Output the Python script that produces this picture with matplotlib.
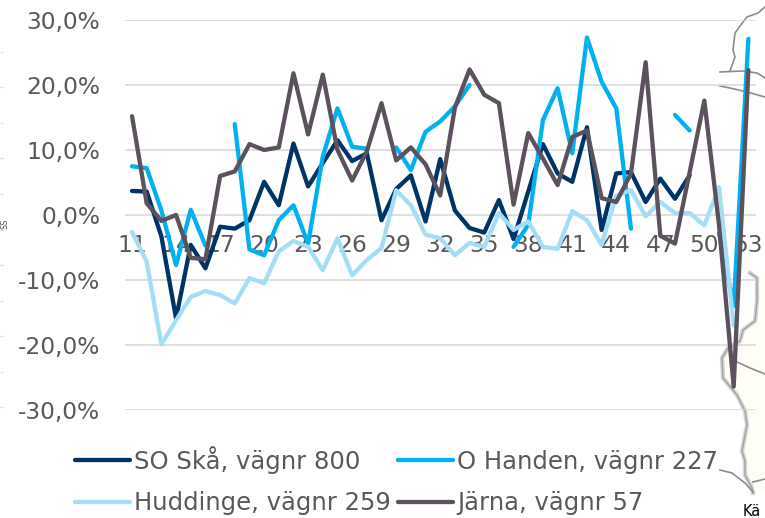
from matplotlib import pyplot as plt
import numpy as np

nan = np.nan
weeks = list(range(11, 54))
week_ticks = weeks[::3]
percent_ticks = [-30, -20, -10, 0, 10, 20, 30]
percent_labels = ["-30,0%", "-20,0%", "-10,0%", "0,0%", "10,0%", "20,0%", "30,0%"]

so_ska = [3.7, 3.6, -3.3, -15.9, -4.6, -8.2, -1.8, -2.1, -0.8, 5.1, 1.5, 11.0, 4.4, 8.0, 11.5,
          8.3, 9.5, -0.8, 4.0, 6.1, -1.0, 8.6, 0.7, -2.0, -2.7, 2.3, -3.7, 3.6, 10.9, 6.4,
          5.1, 13.5, -2.3, 6.4, 6.6, 2.0, 5.6, 2.5, 6.1, nan, nan, nan, nan]
o_handen = [7.5, 7.2, 0.7, -7.7, 0.8, -4.7, nan, 14.0, -5.3, -6.2, -0.8, 1.5, -4.4, 9.0, 16.4,
            10.5, 10.2, nan, 10.4, 6.9, 12.8, 14.4, 16.7, 20.0, nan, nan, -4.9, -1.5, 14.6, 19.5,
            9.5, 27.3, 20.5, 16.4, -2.1, nan, nan, 15.4, 13.0, nan, -2.8, -14.0, 27.1]
huddinge = [-2.6, -7.2, -19.9, -16.2, -12.6, -11.7, -12.3, -13.6, -9.7, -10.5, -5.6, -4.0, -4.9, -8.5, -3.6,
            -9.3, -6.9, -5.1, 3.8, 1.5, -3.0, -3.6, -6.2, -4.3, -4.9, 0.3, -2.3, -1.0, -4.9, -5.2,
            0.6, -0.8, -4.6, 3.0, 3.8, -0.2, 2.0, 0.3, 0.3, -1.6, 4.3, -17.0, nan]
jarna = [15.2, 1.8, -0.9, 0.0, -6.6, -6.8, 6.0, 6.7, 10.9, 10.0, 10.4, 21.8, 12.4, 21.6, 10.0,
         5.3, 9.8, 17.2, 8.4, 10.4, 7.8, 3.0, 16.5, 22.4, 18.5, 17.2, 1.6, 12.6, 8.7, 4.6,
         12.0, 13.0, 2.6, 2.0, 6.4, 23.5, -3.2, -4.4, 6.6, 17.6, -1.5, -26.4, 22.3]

# bits of the map that sit behind the chart, in image pixels
map_fill = [(750, 273), (765, 274), (765, 493), (752, 493), (745, 475), (745, 461), (742, 451), (747, 425),
            (745, 411), (737, 395), (723, 378), (722, 358), (728, 348), (740, 341), (743, 330), (755, 321),
            (757, 301), (757, 278)]
map_border = [(750, 273), (757, 278), (757, 301), (755, 321), (743, 330), (740, 341), (728, 348), (722, 358),
              (723, 378), (737, 395), (745, 411), (747, 425), (742, 451), (745, 461), (745, 475), (752, 488),
              (753, 493)]
map_roads = [
    [(765, 7), (758, 13), (747, 17), (743, 22), (735, 33), (733, 50), (735, 57), (730, 71)],
    [(720, 72), (743, 71), (757, 73), (765, 78)],
    [(720, 86), (730, 88), (747, 92), (765, 97)],
    [(737, 362), (750, 368), (765, 374)],
    [(720, 470), (732, 473), (745, 483), (753, 492)],
    [(753, 482), (765, 479)],
]
stray_ticks = [52, 87, 123, 158, 194, 230, 265, 301, 336, 372, 407]

TEXT = "#595959"
W, H = 765, 518
plt.rcParams.update({"font.family": "DejaVu Sans", "font.size": 16.8})

fig = plt.figure(figsize=(W / 100, H / 100), dpi=100)

bg = fig.add_axes([0, 0, 1, 1], zorder=0)
bg.set_xlim(0, W)
bg.set_ylim(H, 0)
bg.axis("off")
bg.fill(*zip(*map_fill), color="#FEFEF6", lw=0)
bg.plot(*zip(*map_border), color="#D6D6D6", lw=3.2)
bg.plot(*zip(*map_border), color="#A0A0A0", lw=1)
for road in map_roads:
    bg.plot(*zip(*road), color="#8C8C8C", lw=1.2)
bg.hlines(stray_ticks, 0, 3, color="#E0E0E0", lw=1)
bg.text(0.5, 224, "SS", rotation=90, color=TEXT, ha="left", va="center", fontsize=6)
bg.text(743, 516, "Kä", color="black", ha="left", va="baseline", fontsize=10.5)

ax = fig.add_axes([124.7 / W, 1 - 410 / H, 631 / W, 390 / H], zorder=1)
ax.patch.set_alpha(0)
line_so, = ax.plot(weeks, so_ska, color="#003366", lw=3.1, solid_capstyle="round", solid_joinstyle="round", label="SO Skå, vägnr 800")
line_oh, = ax.plot(weeks, o_handen, color="#00B0F0", lw=3.1, solid_capstyle="round", solid_joinstyle="round", label="O Handen, vägnr 227")
line_hu, = ax.plot(weeks, huddinge, color="#A6DDF6", lw=3.1, solid_capstyle="round", solid_joinstyle="round", label="Huddinge, vägnr 259")
line_ja, = ax.plot(weeks, jarna, color="#5C525E", lw=3.1, solid_capstyle="round", solid_joinstyle="round", label="Järna, vägnr 57")

ax.set_xlim(10.5, 53.5)
ax.set_ylim(-30, 30)
ax.set_yticks(percent_ticks, percent_labels)
ax.set_xticks(week_ticks, [str(w) for w in week_ticks])
ax.grid(axis="y", color="#D9D9D9", lw=1.2)
ax.grid(axis="x", visible=False)
for name in ["left", "right", "top"]:
    ax.spines[name].set_visible(False)
ax.spines["bottom"].set_position(("data", 0))
ax.spines["bottom"].set_visible(False)
ax.tick_params(axis="y", length=0, pad=17.5, labelcolor=TEXT)
ax.tick_params(axis="x", length=0, pad=14, labelcolor=TEXT)

ax.legend(handles=[line_so, line_hu, line_oh, line_ja], ncol=2, frameon=False,
          loc="upper left", bbox_to_anchor=(75 / W, 1 - 446 / H), bbox_transform=fig.transFigure,
          fontsize=17.5, borderaxespad=0, borderpad=0, handlelength=2.26, handletextpad=0.16,
          columnspacing=0.32, labelspacing=0.72, labelcolor=TEXT)

fig.savefig("out.png", dpi=100)
